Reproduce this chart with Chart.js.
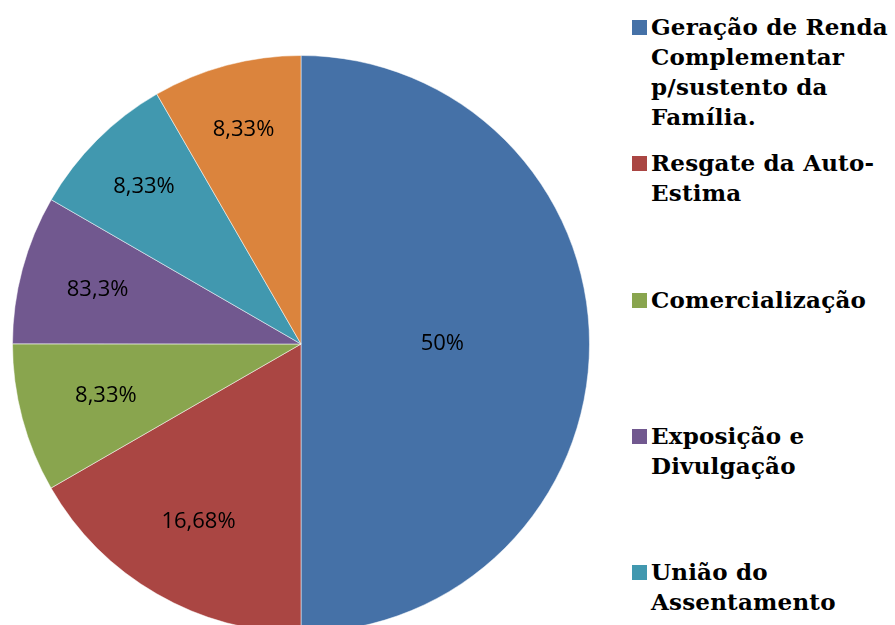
<!DOCTYPE html>
<html>
<head>
<meta charset="utf-8">
<script src="https://cdn.jsdelivr.net/npm/chart.js@4"></script>
<style>
  html, body { margin: 0; padding: 0; background: #fff; overflow: hidden; width: 895px; height: 625px; }
  #wrap { position: absolute; left: 0; top: 0; width: 602px; height: 688px; }
  #legend { position: absolute; left: 0; top: 0; }
  .item { position: absolute; left: 632px; width: 270px; font-family: "DejaVu Serif", serif; font-weight: bold;
          font-size: 23px; line-height: 30px; color: #000; white-space: nowrap; letter-spacing: 0.2px; }
  .item .box { position: absolute; left: 0; top: 8px; width: 15px; height: 15px; }
  .item .txt { position: absolute; left: 19px; top: 0; }
</style>
</head>
<body>
<div id="wrap"><canvas id="myChart" width="602" height="688"></canvas></div>
<div id="legend"></div>
<script>
// Datos del gráfico
const categorias = [
  ['Geração de Renda', 'Complementar', 'p/sustento da', 'Família.'],
  ['Resgate da Auto-', 'Estima'],
  ['Comercialização'],
  ['Exposição e', 'Divulgação'],
  ['União do', 'Assentamento'],
  [''] // la última categoría queda fuera del recorte
];
const valores = [50, 16.68, 8.33, 8.33, 8.33, 8.33];
const etiquetas = ['50%', '16,68%', '8,33%', '83,3%', '8,33%', '8,33%'];
const colores = ['#4571A7', '#AA4643', '#89A54E', '#71588F', '#4198AF', '#DB843D'];
// distancia de la etiqueta al centro (fracción del radio)
const radioEtiqueta = [0.49, 0.71, 0.70, 0.73, 0.77, 0.77];

//Plugin para pintar los porcentajes dentro de cada rebanada
const etiquetasPlugin = {
  id: 'etiquetas',
  afterDatasetsDraw(chart) {
    const ctx = chart.ctx;
    const arcs = chart.getDatasetMeta(0).data;
    ctx.save();
    ctx.font = '22px "Open Sans", sans-serif';
    ctx.fillStyle = '#000';
    ctx.textAlign = 'center';
    ctx.textBaseline = 'middle';
    arcs.forEach((arc, i) => {
      const p = arc.getProps(['x', 'y', 'startAngle', 'endAngle', 'outerRadius'], true);
      const mid = (p.startAngle + p.endAngle) / 2;
      const r = p.outerRadius * radioEtiqueta[i];
      ctx.fillText(etiquetas[i], p.x + Math.cos(mid) * r, p.y + Math.sin(mid) * r);
    });
    ctx.restore();
  }
};

const data = {
  labels: categorias.map(c => c.join(' ')),
  datasets: [{
    data: valores,
    backgroundColor: colores,
    borderColor: 'rgba(255,255,255,0.5)',
    borderWidth: 1
  }]
};

const config = {
  type: 'pie',
  data: data,
  options: {
    responsive: false,
    animation: false,
    layout: { padding: 12 },
    plugins: {
      legend: { display: false },
      tooltip: { enabled: false }
    }
  },
  plugins: [etiquetasPlugin]
};

const myChart = new Chart(document.getElementById('myChart').getContext('2d'), config);

//Leyenda en HTML
const leyenda = document.getElementById('legend');
categorias.forEach((lineas, i) => {
  if (!lineas[0]) return;
  const div = document.createElement('div');
  div.className = 'item';
  div.style.top = (12 + i * 136.3) + 'px';
  const box = document.createElement('div');
  box.className = 'box';
  box.style.background = colores[i];
  const txt = document.createElement('div');
  txt.className = 'txt';
  txt.innerHTML = lineas.join('<br>');
  div.appendChild(box);
  div.appendChild(txt);
  leyenda.appendChild(div);
});
</script>
</body>
</html>
